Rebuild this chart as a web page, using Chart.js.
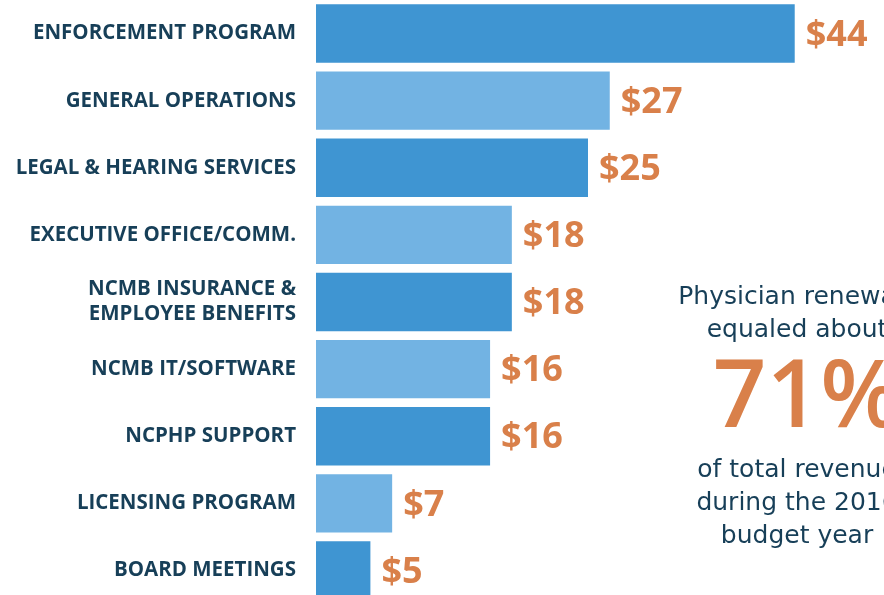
<!DOCTYPE html>
<html>
<head>
<meta charset="utf-8">
<script src="https://cdn.jsdelivr.net/npm/chart.js@4"></script>
<style>
  html, body { margin: 0; padding: 0; background: #fff; overflow: hidden; }
  canvas { display: block; }
</style>
</head>
<body>
<canvas id="myChart" width="884" height="604"></canvas>
<script>
const categories = [
    'ENFORCEMENT PROGRAM',
    'GENERAL OPERATIONS',
    'LEGAL & HEARING SERVICES',
    'EXECUTIVE OFFICE/COMM.',
    ['NCMB INSURANCE &', 'EMPLOYEE BENEFITS'],
    'NCMB IT/SOFTWARE',
    'NCPHP SUPPORT',
    'LICENSING PROGRAM',
    'BOARD MEETINGS'
];
const amounts = [44, 27, 25, 18, 18, 16, 16, 7, 5];
const barColors = ['#3f95d2', '#72b3e3', '#3f95d2', '#72b3e3', '#3f95d2', '#72b3e3', '#3f95d2', '#72b3e3', '#3f95d2'];
const sideNote = ['Physician renewals', 'equaled about'];
const bigNumber = '71%';
const sideNote2 = ['of total revenue', 'during the 2016', 'budget year'];

const navy = '#173f58';
const orange = '#d9804a';

// "$44" style labels at the end of each bar
const valueLabels = {
    id: 'valueLabels',
    afterDatasetsDraw(chart) {
        const ctx = chart.ctx;
        const meta = chart.getDatasetMeta(0);
        ctx.save();
        ctx.fillStyle = orange;
        ctx.font = 'bold 36px "Open Sans"';
        ctx.textAlign = 'left';
        ctx.textBaseline = 'middle';
        meta.data.forEach((bar, i) => {
            ctx.fillText('$' + amounts[i], bar.x + 11, bar.y + 2);
        });
        ctx.restore();
    }
};

// the text block on the right
const sideText = {
    id: 'sideText',
    afterDraw(chart) {
        const ctx = chart.ctx;
        const cx = 797;
        ctx.save();
        ctx.textAlign = 'center';
        ctx.textBaseline = 'middle';
        ctx.fillStyle = navy;
        ctx.font = '25px "DejaVu Sans"';
        sideNote.forEach((t, i) => ctx.fillText(t, cx, 297 + i * 33));
        ctx.fillStyle = orange;
        ctx.font = '600 94px "Open Sans"';
        ctx.fillText(bigNumber, cx + 10, 400);
        ctx.fillStyle = navy;
        ctx.font = '25px "DejaVu Sans"';
        sideNote2.forEach((t, i) => ctx.fillText(t, cx, 470 + i * 33));
        ctx.restore();
    }
};

const ctx = document.getElementById('myChart').getContext('2d');
const myChart = new Chart(ctx, {
    type: 'bar',
    data: {
        labels: categories,
        datasets: [{
            data: amounts,
            backgroundColor: barColors,
            barPercentage: 0.87,
            categoryPercentage: 1.0
        }]
    },
    options: {
        indexAxis: 'y',
        responsive: false,
        animation: false,
        layout: { padding: { left: 0, right: 24, top: 0, bottom: 0 } },
        plugins: {
            legend: { display: false },
            tooltip: { enabled: false }
        },
        scales: {
            x: {
                display: false,
                min: 0,
                max: 50
            },
            y: {
                grid: { display: false },
                border: { display: false },
                afterFit(scale) {
                    scale.width = 316;
                    scale.paddingTop = 0;
                    scale.paddingBottom = 0;
                },
                ticks: {
                    color: navy,
                    padding: 12,
                    font: { family: '"Open Sans"', size: 20.5, weight: 'bold', lineHeight: 1.22 }
                }
            }
        }
    },
    plugins: [valueLabels, sideText]
});
</script>
</body>
</html>
